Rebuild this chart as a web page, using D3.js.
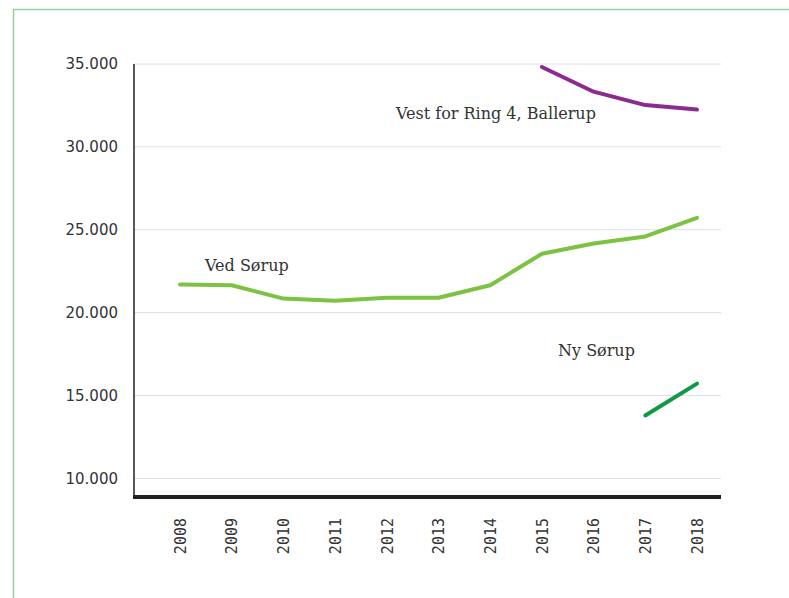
<!DOCTYPE html>
<html>
<head>
<meta charset="utf-8">
<script src="https://cdn.jsdelivr.net/npm/d3@7"></script>
<style>
  body { margin: 0; background: #fff; }
  svg { display: block; }
</style>
</head>
<body>
<div id="chart"></div>
<script>
var aar = ["2008", "2009", "2010", "2011", "2012", "2013", "2014", "2015", "2016", "2017", "2018"]
var vedSorup = [21700, 21650, 20850, 20720, 20900, 20900, 21650, 23550, 24170, 24600, 25720]
var vestRing4 = [null, null, null, null, null, null, null, 34820, 33330, 32520, 32250]
var nySorup = [null, null, null, null, null, null, null, null, null, 13800, 15720]
var yTicks = [10000, 15000, 20000, 25000, 30000, 35000]

var width = 789, height = 598
var venstre = 134, hoejre = 721, oeverst = 64, bund = 497

var svg = d3.select("#chart").append("svg")
    .attr("width", width)
    .attr("height", height)

// ramme
svg.append("path")
    .attr("d", "M13.5," + height + "V9.5H" + width)
    .attr("fill", "none")
    .attr("stroke", "#93d19c")
    .attr("stroke-width", 1.5)

var x = d3.scalePoint()
    .domain(aar)
    .range([180, 697])

var y = d3.scaleLinear()
    .domain([8880, 35000])
    .range([bund, oeverst])

// gitterlinjer
svg.append("g")
    .selectAll("line")
    .data(yTicks)
    .enter().append("line")
    .attr("x1", venstre)
    .attr("x2", hoejre)
    .attr("y1", function (d) { return y(d) })
    .attr("y2", function (d) { return y(d) })
    .attr("stroke", "#dbe0ec")
    .attr("stroke-width", 1)

var fmt = function (d) { return d3.format(",")(d).replace(/,/g, ".") }

var yAxis = svg.append("g")
    .attr("transform", "translate(" + venstre + ",0)")
    .call(d3.axisLeft(y).tickValues(yTicks).tickSize(0).tickPadding(16).tickFormat(fmt))
yAxis.select(".domain").remove()
yAxis.selectAll("text")
    .attr("font-family", "'DejaVu Sans', sans-serif")
    .attr("font-size", 15)
    .attr("fill", "#333")

svg.append("line")
    .attr("x1", venstre).attr("x2", venstre)
    .attr("y1", oeverst).attr("y2", bund)
    .attr("stroke", "#231f20")
    .attr("stroke-width", 1.5)

var xAxis = svg.append("g")
    .attr("transform", "translate(0," + bund + ")")
    .call(d3.axisBottom(x).tickSize(0).tickPadding(0))
xAxis.select(".domain").remove()
xAxis.selectAll("text")
    .attr("font-family", "'DejaVu Sans Mono', monospace")
    .attr("font-size", 15)
    .attr("fill", "#333")
    .attr("text-anchor", "end")
    .attr("dy", "0.35em")
    .attr("transform", "translate(0,21) rotate(-90)")
    .attr("y", 0)

svg.append("line")
    .attr("x1", venstre - 1).attr("x2", hoejre)
    .attr("y1", bund).attr("y2", bund)
    .attr("stroke", "#231f20")
    .attr("stroke-width", 4)

var linje = d3.line()
    .defined(function (d) { return d != null })
    .x(function (d, i) { return x(aar[i]) })
    .y(function (d) { return y(d) })

var serier = [
    { v: vedSorup, farve: "#7dc242" },
    { v: vestRing4, farve: "#8d2a90" },
    { v: nySorup, farve: "#0e9a47" }
]

serier.forEach(function (s) {
    svg.append("path")
        .datum(s.v)
        .attr("fill", "none")
        .attr("stroke", s.farve)
        .attr("stroke-width", 4)
        .attr("stroke-linecap", "round")
        .attr("stroke-linejoin", "round")
        .attr("d", linje)
})

var etiketter = [
    { t: "Vest for Ring 4, Ballerup", x: 396, y: 119 },
    { t: "Ved Sørup", x: 205, y: 271 },
    { t: "Ny Sørup", x: 558, y: 356 }
]
svg.selectAll(".lab")
    .data(etiketter)
    .enter().append("text")
    .attr("class", "lab")
    .attr("x", function (d) { return d.x })
    .attr("y", function (d) { return d.y })
    .attr("font-family", "'DejaVu Serif', serif")
    .attr("font-size", 16)
    .attr("fill", "#333")
    .text(function (d) { return d.t })
</script>
</body>
</html>
